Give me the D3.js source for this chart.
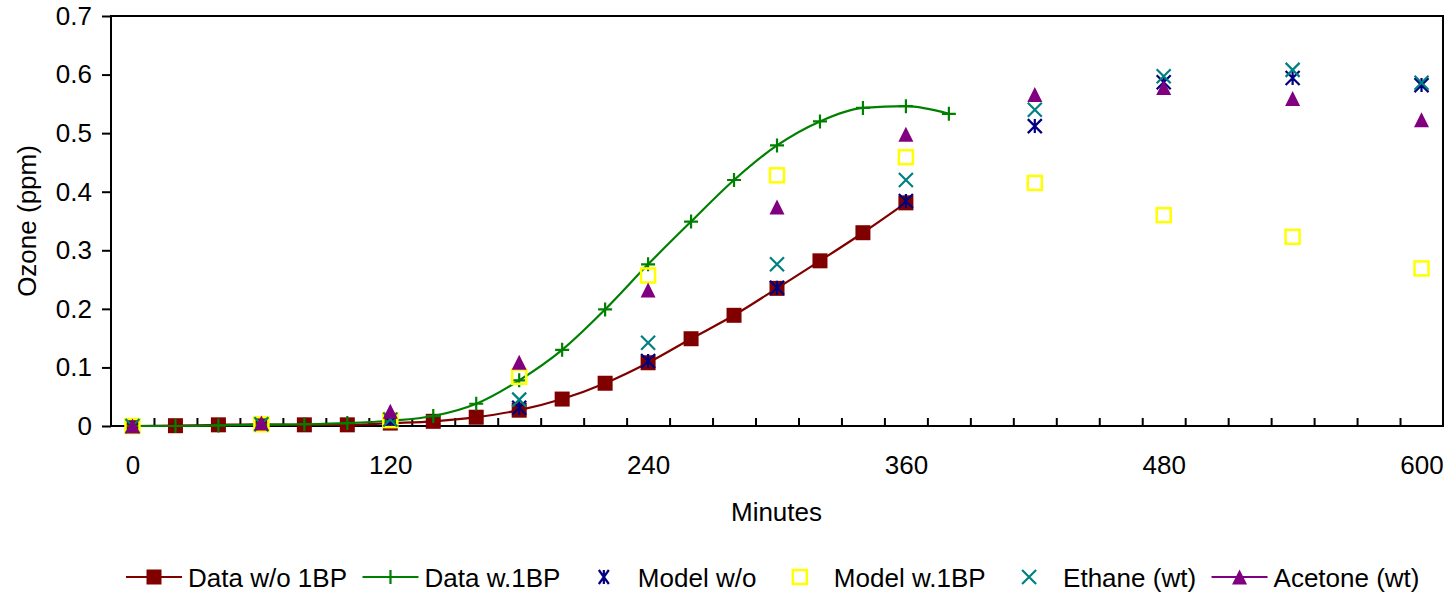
<!DOCTYPE html>
<html>
<head>
<meta charset="utf-8">
<script src="https://cdn.jsdelivr.net/npm/d3@7"></script>
<style>
  html, body { margin: 0; padding: 0; background: #fff; }
  svg text { font-family: Arial, "Liberation Sans", sans-serif; fill: #000; }
</style>
</head>
<body>
<svg id="chart" width="1453" height="597"></svg>
<script>
// Ozone time series (minutes, ppm)
const timesData = [0, 20, 40, 60, 80, 100, 120, 140, 160, 180, 200, 220, 240, 260, 280, 300, 320, 340, 360, 380];
const dataWithout1BP = [0, 0.0005, 0.002, 0.003, 0.002, 0.002, 0.005, 0.008, 0.015, 0.027, 0.046, 0.073, 0.108, 0.149, 0.189, 0.235, 0.282, 0.330, 0.381];
const dataWith1BP = [0, 0, 0.001, 0.002, 0.003, 0.005, 0.009, 0.017, 0.038, 0.078, 0.130, 0.199, 0.276, 0.349, 0.420, 0.479, 0.520, 0.543, 0.546, 0.533];

const timesModel = [0, 60, 120, 180, 240, 300, 360, 420, 480, 540, 600];
const modelWithout = [0, 0.003, 0.008, 0.031, 0.111, 0.236, 0.384, 0.512, 0.587, 0.594, 0.582];
const modelWith1BP = [0, 0.003, 0.010, 0.084, 0.257, 0.428, 0.459, 0.415, 0.360, 0.323, 0.269];
const ethaneWt = [0, 0.003, 0.011, 0.045, 0.142, 0.276, 0.420, 0.540, 0.597, 0.608, 0.586];
const acetoneWt = [0, 0.005, 0.025, 0.109, 0.232, 0.374, 0.498, 0.566, 0.578, 0.559, 0.523];

const xTickLabels = [0, 120, 240, 360, 480, 600];
const xMinorTicks = d3.range(10, 600, 20);
const yTickLabels = [0, 0.1, 0.2, 0.3, 0.4, 0.5, 0.6, 0.7];

const svg = d3.select("#chart");
const plot = { left: 111, top: 16, right: 1443, bottom: 426 };

const x = d3.scaleLinear().domain([-10, 610]).range([plot.left, plot.right]);
const y = d3.scaleLinear().domain([0, 0.7]).range([plot.bottom, plot.top]);

// Marker shapes centred on (0,0)
const markers = {
  square: (g, s, c) => g.append("rect").attr("x", -s / 2).attr("y", -s / 2).attr("width", s).attr("height", s).attr("fill", c),
  openSquare: (g, s, c) => g.append("rect").attr("x", -s / 2 + 1).attr("y", -s / 2 + 1).attr("width", s - 2).attr("height", s - 2)
      .attr("fill", "none").attr("stroke", c).attr("stroke-width", 2.5),
  plus: (g, s, c) => g.append("path").attr("d", `M${-s / 2},0H${s / 2}M0,${-s / 2}V${s / 2}`).attr("stroke", c).attr("stroke-width", 2.2).attr("fill", "none"),
  cross: (g, s, c) => g.append("path").attr("d", `M${-s / 2},${-s / 2}L${s / 2},${s / 2}M${-s / 2},${s / 2}L${s / 2},${-s / 2}`)
      .attr("stroke", c).attr("stroke-width", 2.2).attr("fill", "none"),
  star: (g, s, c, w) => {
    const hw = (w || s) / 2;
    return g.append("path").attr("d", `M${-hw},${-s / 2}L${hw},${s / 2}M${-hw},${s / 2}L${hw},${-s / 2}M0,${-s / 2}V${s / 2}`)
      .attr("stroke", c).attr("stroke-width", 2.2).attr("fill", "none");
  },
  triangle: (g, s, c) => g.append("path").attr("d", `M0,${-s / 2}L${s / 2},${s / 2}L${-s / 2},${s / 2}Z`).attr("fill", c)
};

const series = [
  { name: "Data w/o 1BP", t: timesData, v: dataWithout1BP, color: "#800000", line: true, marker: "square", size: 15 },
  { name: "Data w.1BP", t: timesData, v: dataWith1BP, color: "#008000", line: true, marker: "plus", size: 14 },
  { name: "Model w/o", t: timesModel, v: modelWithout, color: "#000080", line: false, marker: "star", size: 14 },
  { name: "Model w.1BP", t: timesModel, v: modelWith1BP, color: "#FFFF00", line: false, marker: "openSquare", size: 16 },
  { name: "Ethane (wt)", t: timesModel, v: ethaneWt, color: "#008080", line: false, marker: "cross", size: 14 },
  { name: "Acetone (wt)", t: timesModel, v: acetoneWt, color: "#800080", line: false, legendLine: true, marker: "triangle", size: 15 }
];

// Plot frame
svg.append("rect")
  .attr("x", plot.left).attr("y", plot.top)
  .attr("width", plot.right - plot.left).attr("height", plot.bottom - plot.top)
  .attr("fill", "none").attr("stroke", "#000").attr("stroke-width", 2);

// Y axis
const yAxis = d3.axisLeft(y).tickValues(yTickLabels).tickSize(9).tickPadding(10)
  .tickFormat(d => d === 0 ? "0" : d3.format(".1f")(d));
const yg = svg.append("g").attr("transform", `translate(${plot.left},0)`).call(yAxis);
yg.select(".domain").remove();
yg.selectAll(".tick line").attr("stroke", "#000").attr("stroke-width", 2);
yg.selectAll(".tick text").attr("font-size", 26).attr("font-family", "Arial, 'Liberation Sans', sans-serif").attr("fill", "#000");

// X axis: inward minor ticks, labels every 120 minutes
const xg = svg.append("g").attr("transform", `translate(0,${plot.bottom})`);
xg.call(d3.axisTop(x).tickValues(xMinorTicks).tickSize(8).tickFormat(""));
xg.select(".domain").remove();
xg.selectAll(".tick line").attr("stroke", "#000").attr("stroke-width", 2);

const xl = svg.append("g").attr("transform", `translate(0,${plot.bottom})`)
  .call(d3.axisBottom(x).tickValues(xTickLabels).tickSize(0).tickPadding(30));
xl.select(".domain").remove();
xl.selectAll(".tick text").attr("font-size", 26).attr("font-family", "Arial, 'Liberation Sans', sans-serif").attr("fill", "#000");

// Axis titles
svg.append("text").attr("x", (plot.left + plot.right) / 2 - 0.5).attr("y", 521)
  .attr("text-anchor", "middle").attr("font-size", 26).text("Minutes");
svg.append("text").attr("transform", `translate(36,${(plot.top + plot.bottom) / 2}) rotate(-90)`)
  .attr("text-anchor", "middle").attr("font-size", 26).text("Ozone (ppm)");

// Series
const lineGen = d3.line().x(d => x(d[0])).y(d => y(d[1])).curve(d3.curveMonotoneX);
series.forEach(s => {
  const pts = s.v.map((v, i) => [s.t[i], v]);
  if (s.line) {
    svg.append("path").datum(pts).attr("d", lineGen)
      .attr("fill", "none").attr("stroke", s.color).attr("stroke-width", 2.2);
  }
  const g = svg.append("g");
  pts.forEach(p => {
    const m = g.append("g").attr("transform", `translate(${x(p[0])},${y(p[1])})`);
    markers[s.marker](m, s.size, s.color);
  });
});

// Legend
const legendY = 577;
let cx = 154;
series.forEach(s => {
  const lg = svg.append("g").attr("transform", `translate(${cx},${legendY})`);
  if (s.line || s.legendLine) {
    lg.append("line").attr("x1", -28).attr("x2", 28).attr("y1", 0).attr("y2", 0)
      .attr("stroke", s.color).attr("stroke-width", 2.2);
  }
  if (s.marker === "star") markers.star(lg, 14, s.color, 10);
  else markers[s.marker](lg, s.size, s.color);
  const t = lg.append("text").attr("x", 34).attr("y", 9.5).attr("font-size", 26).text(s.name);
  cx += 34 + t.node().getComputedTextLength() + 43.5;
});
</script>
</body>
</html>
